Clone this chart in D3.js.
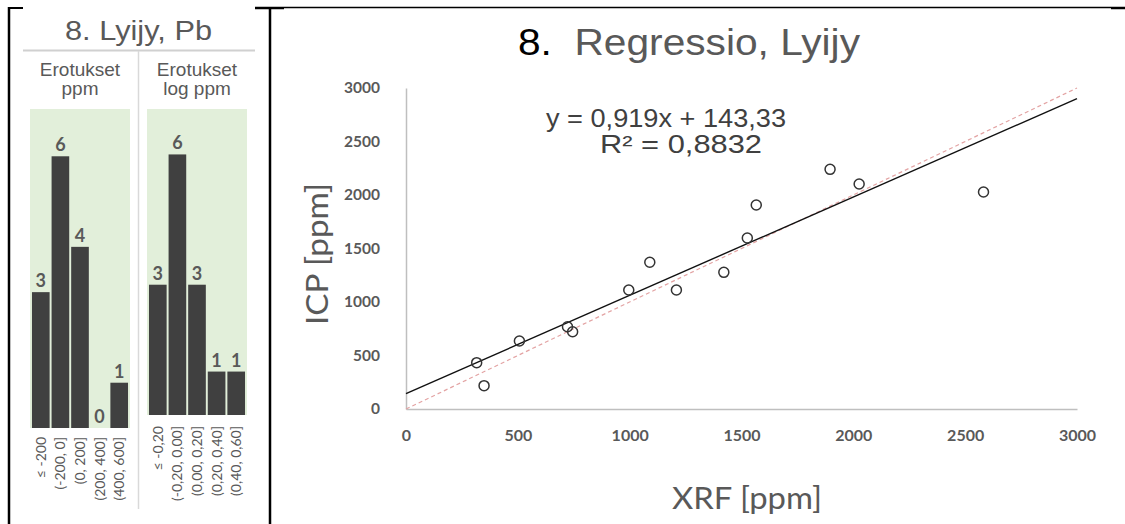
<!DOCTYPE html>
<html>
<head>
<meta charset="utf-8">
<script src="https://cdn.jsdelivr.net/npm/d3@7"></script>
<style>
	body { margin: 0; background: #fff; }
	svg { display: block; }
</style>
</head>
<body>
<div id="chart"></div>
<script>
// histogram of differences, ppm
const ppmBins = ["≤ -200", "(-200, 0]", "(0, 200]", "(200, 400]", "(400, 600]"];
const ppmCounts = [3, 6, 4, 0, 1];
// histogram of differences, log ppm
const logBins = ["≤ -0,20", "(-0,20, 0,00]", "(0,00, 0,20]", "(0,20, 0,40]", "(0,40, 0,60]"];
const logCounts = [3, 6, 3, 1, 1];

// scatter: XRF vs ICP
const xrfValues = [316, 349, 507, 722, 745, 996, 1090, 1209, 1421, 1526, 1566, 1896, 2026, 2582];
const icpValues = [433, 218, 636, 769, 722, 1112, 1371, 1112, 1277, 1598, 1907, 2240, 2103, 2028];
const axisTicks = [0, 500, 1000, 1500, 2000, 2500, 3000];
const slope = 0.919;
const intercept = 143.33;
const rSquared = 0.8832;

const W = 1125, H = 524;
const gray = "#595959";

const svg = d3.select("#chart").append("svg")
	.attr("width", W)
	.attr("height", H);

// frame lines (table borders)
const frame = svg.append("g").attr("stroke", "#000");
frame.append("line").attr("x1", 9).attr("x2", 9).attr("y1", 7).attr("y2", H).attr("stroke-width", 2.5);
frame.append("line").attr("x1", 8).attr("x2", 23).attr("y1", 8).attr("y2", 8).attr("stroke-width", 2);
frame.append("line").attr("x1", 270).attr("x2", 270).attr("y1", 7).attr("y2", H).attr("stroke-width", 2.5);
frame.append("line").attr("x1", 255).attr("x2", 284).attr("y1", 8).attr("y2", 8).attr("stroke-width", 2.5);
frame.append("line").attr("x1", 284).attr("x2", 1111).attr("y1", 7.5).attr("y2", 7.5).attr("stroke-width", 1.5);
frame.append("line").attr("x1", 1111).attr("x2", W).attr("y1", 8).attr("y2", 8).attr("stroke-width", 2.5);

// left panel
const left = svg.append("g");
left.append("text")
	.attr("x", 65).attr("y", 40)
	.attr("font-family", "Liberation Sans, Arial, sans-serif")
	.attr("font-size", 27)
	.attr("fill", gray)
	.attr("textLength", 147)
	.attr("lengthAdjust", "spacingAndGlyphs")
	.text("8. Lyijy, Pb");

left.append("line").attr("x1", 23).attr("x2", 255).attr("y1", 50.5).attr("y2", 50.5)
	.attr("stroke", "#d0d0d0").attr("stroke-width", 2);
left.append("line").attr("x1", 138.5).attr("x2", 138.5).attr("y1", 51).attr("y2", 509)
	.attr("stroke", "#d9d9d9").attr("stroke-width", 1.5);

function histogram(opts) {
	const { bins, counts, x0, x1, top, bottom, labelY, title } = opts;

	const g = left.append("g");

	title.forEach((t, i) => {
		g.append("text")
			.attr("x", (x0 + x1) / 2)
			.attr("y", 76 + i * 19)
			.attr("text-anchor", "middle")
			.attr("font-family", "Liberation Sans, Arial, sans-serif")
			.attr("font-size", 19)
			.attr("fill", gray)
			.text(t);
	});

	g.append("rect")
		.attr("x", x0 - 1).attr("y", top)
		.attr("width", x1 - x0 + 2).attr("height", bottom - top)
		.attr("fill", "#e2efda");

	const x = d3.scaleBand()
		.domain(bins)
		.range([x0, x1])
		.paddingInner(0.1)
		.paddingOuter(0.05);

	const y = d3.scaleLinear()
		.domain([0, 7])
		.range([bottom, top + 2]);

	g.selectAll(".bar")
		.data(counts)
		.enter().append("rect")
		.attr("class", "bar")
		.attr("x", (d, i) => x(bins[i]))
		.attr("y", d => y(d))
		.attr("width", x.bandwidth())
		.attr("height", d => bottom - y(d))
		.attr("fill", "#404040");

	g.selectAll(".val")
		.data(counts)
		.enter().append("text")
		.attr("class", "val")
		.attr("x", (d, i) => x(bins[i]) + x.bandwidth() / 2)
		.attr("y", d => y(d) - 5)
		.attr("text-anchor", "middle")
		.attr("font-family", "Lato, sans-serif")
		.attr("font-weight", "bold")
		.attr("font-size", 18)
		.attr("fill", gray)
		.text(d => d);

	g.selectAll(".bin")
		.data(bins)
		.enter().append("text")
		.attr("class", "bin")
		.attr("transform", d => `translate(${x(d) + x.bandwidth() / 2 + 5},${labelY}) rotate(-90)`)
		.attr("text-anchor", "end")
		.attr("font-family", "Lato, sans-serif")
		.attr("font-size", 14)
		.attr("fill", gray)
		.text(d => d);
}

histogram({
	bins: ppmBins, counts: ppmCounts,
	x0: 31, x1: 129, top: 109, bottom: 428, labelY: 437,
	title: ["Erotukset", "ppm"]
});

histogram({
	bins: logBins, counts: logCounts,
	x0: 148, x1: 246, top: 109, bottom: 415, labelY: 426,
	title: ["Erotukset", "log ppm"]
});

// right panel: regression
const right = svg.append("g");

const x = d3.scaleLinear().domain([0, 3000]).range([406, 1077]);
const y = d3.scaleLinear().domain([0, 3000]).range([409, 88]);

const title = right.append("text")
	.attr("x", 518).attr("y", 55)
	.attr("font-family", "Liberation Sans, Arial, sans-serif")
	.attr("font-size", 36)
	.attr("textLength", 342)
	.attr("lengthAdjust", "spacingAndGlyphs");
title.append("tspan").attr("fill", "#000").text("8.");
title.append("tspan").attr("fill", gray).text("\u00a0 Regressio, Lyijy");

const comma = v => String(v).replace(".", ",");

right.append("text")
	.attr("x", 546).attr("y", 127)
	.attr("font-family", "Liberation Sans, Arial, sans-serif")
	.attr("font-size", 25)
	.attr("fill", "#404040")
	.attr("textLength", 240)
	.attr("lengthAdjust", "spacingAndGlyphs")
	.text(`y = ${comma(slope)}x + ${comma(intercept)}`);

right.append("text")
	.attr("x", 600).attr("y", 153)
	.attr("font-family", "Liberation Sans, Arial, sans-serif")
	.attr("font-size", 25)
	.attr("fill", "#404040")
	.attr("textLength", 162)
	.attr("lengthAdjust", "spacingAndGlyphs")
	.text(`R² = ${comma(rSquared)}`);

const tickFmt = d3.format("d");

// axes
right.append("g")
	.attr("transform", `translate(0,${y(0)})`)
	.call(d3.axisBottom(x).tickValues(axisTicks).tickFormat(tickFmt).tickSize(0).tickPadding(21))
	.call(g => g.select(".domain").attr("stroke", "#bfbfbf").attr("stroke-width", 1.5))
	.call(g => g.selectAll("text")
		.attr("font-family", "Lato, sans-serif")
		.attr("font-weight", "bold")
		.attr("font-size", 16)
		.attr("fill", gray));

right.append("g")
	.attr("transform", `translate(${x(0)},0)`)
	.call(d3.axisLeft(y).tickValues(axisTicks).tickFormat(tickFmt).tickSize(0).tickPadding(26))
	.call(g => g.select(".domain").attr("stroke", "#bfbfbf").attr("stroke-width", 1.5))
	.call(g => g.selectAll("text")
		.attr("font-family", "Lato, sans-serif")
		.attr("font-weight", "bold")
		.attr("font-size", 15.5)
		.attr("fill", gray));

// 1:1 reference line
right.append("line")
	.attr("x1", x(0)).attr("y1", y(0))
	.attr("x2", x(3000)).attr("y2", y(3000))
	.attr("stroke", "#e3a3a3")
	.attr("stroke-width", 1.2)
	.attr("stroke-dasharray", "4,3");

// trend line
right.append("line")
	.attr("x1", x(0)).attr("y1", y(intercept))
	.attr("x2", x(3000)).attr("y2", y(slope * 3000 + intercept))
	.attr("stroke", "#111")
	.attr("stroke-width", 1.4);

right.selectAll(".pt")
	.data(xrfValues)
	.enter().append("circle")
	.attr("class", "pt")
	.attr("cx", d => x(d))
	.attr("cy", (d, i) => y(icpValues[i]))
	.attr("r", 5)
	.attr("fill", "none")
	.attr("stroke", "#333")
	.attr("stroke-width", 1.5);

right.append("text")
	.attr("x", 747).attr("y", 509)
	.attr("text-anchor", "middle")
	.attr("font-family", "Lato, sans-serif")
	.attr("font-size", 31)
	.attr("fill", gray)
	.attr("textLength", 150)
	.attr("lengthAdjust", "spacingAndGlyphs")
	.text("XRF [ppm]");

right.append("text")
	.attr("transform", `translate(328,254) rotate(-90)`)
	.attr("text-anchor", "middle")
	.attr("font-family", "Lato, sans-serif")
	.attr("font-size", 31)
	.attr("fill", gray)
	.attr("textLength", 142)
	.attr("lengthAdjust", "spacingAndGlyphs")
	.text("ICP [ppm]");
</script>
</body>
</html>
